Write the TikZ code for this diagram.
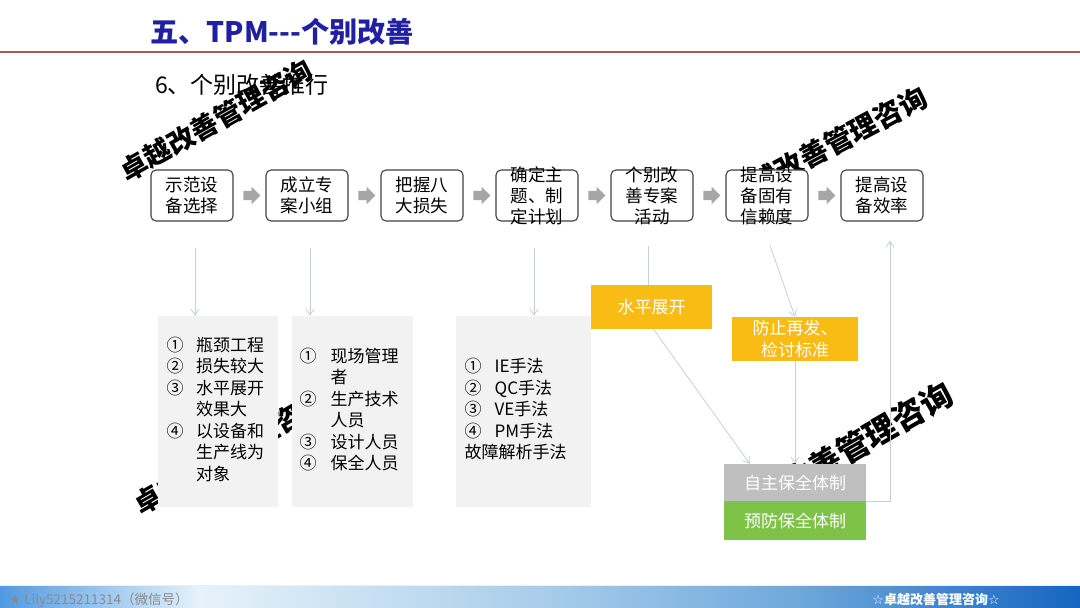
\documentclass[tikz,border=0pt]{standalone}
\usepackage{fontspec}
\setmainfont{Noto Sans CJK SC}
\newfontfamily\symf{DejaVu Sans}
\usetikzlibrary{arrows.meta,shapes.arrows,calc}
\definecolor{titleblue}{HTML}{2020A0}
\definecolor{redline}{HTML}{A85A5A}
\definecolor{boxedge}{HTML}{404040}
\definecolor{arrowgray}{HTML}{A6A6A6}
\definecolor{listgray}{HTML}{F2F2F2}
\definecolor{connc}{HTML}{C2D2DC}
\definecolor{orangec}{HTML}{F9BC15}
\definecolor{greenc}{HTML}{7EC247}
\definecolor{graybox}{HTML}{BFBFBF}
\definecolor{footgray}{HTML}{8A8A8A}
\definecolor{barA}{HTML}{4F9BE3}
\definecolor{barB}{HTML}{E6F2FA}
\definecolor{barC}{HTML}{A9CDEA}
\definecolor{barD}{HTML}{6EA8DC}
\definecolor{barE}{HTML}{1565C0}
\begin{document}
\begin{tikzpicture}[x=1pt,y=-1pt,
  flowbox/.style={draw=boxedge, line width=1.1pt, rounded corners=5pt, fill=white,
    minimum width=82pt, minimum height=51pt, inner sep=0pt},
  flowtext/.style={align=center, font=\fontsize{17.5}{21}\selectfont, inner sep=0pt},
  garrow/.style={single arrow, fill=arrowgray, draw=none, inner sep=4.5pt,
    minimum height=17pt, minimum width=17pt, single arrow head extend=4pt},
  listbox/.style={fill=listgray, minimum height=191pt, inner sep=0pt},
  listtext/.style={anchor=west, inner sep=0pt, font=\fontsize{17}{21.5}\selectfont},
  conn/.style={draw=connc, line width=0.8pt},
  tip/.style={-{Straight Barb[length=6pt,width=8pt]}},
  colbox/.style={text=white, align=center, inner sep=0pt, font=\fontsize{17}{22}\selectfont},
  wmark/.style={font=\bfseries\fontsize{27}{27}\selectfont, inner sep=0pt}
]
\useasboundingbox (0,0) rectangle (1080,608);
\fill[white] (0,0) rectangle (1080,608);

% header
\node[anchor=west, font=\bfseries\fontsize{28.2}{29}\selectfont, text=titleblue, inner sep=0pt] (title) at (150,32) {五、TPM{-}{-}{-}个别改善};
\draw[redline, line width=1.5pt] (0,52) -- (1080,52);
\node[anchor=west, font=\fontsize{23}{23}\selectfont, inner sep=0pt] (sub) at (155,85) {6、个别改善推行};

% watermarks
\node[wmark, rotate=29.5] (w1) at (216,120) {卓越改善管理咨询};
\node[wmark, rotate=28, font=\bfseries\fontsize{28}{28}\selectfont] (w2) at (826,147) {卓越改善管理咨询};
\node[wmark, rotate=30] (w3) at (230,453) {卓越改善管理咨询};
\node[wmark, rotate=30, font=\bfseries\fontsize{32}{32}\selectfont] (w4) at (839,455) {卓越改善管理咨询};

% flow boxes
\node[flowbox] (b1) at (192,195.5) {};
\node[flowtext] (t1) at (b1) {示范设\\备选择};
\node[flowbox] (b2) at (307,195.5) {};
\node[flowtext] (t2) at (b2) {成立专\\案小组};
\node[flowbox] (b3) at (422,195.5) {};
\node[flowtext] (t3) at (b3) {把握八\\大损失};
\node[flowbox] (b4) at (537,195.5) {};
\node[flowtext] (t4) at (b4) {确定主\\题、制\\定计划};
\node[flowbox] (b5) at (652,195.5) {};
\node[flowtext] (t5) at (b5) {个别改\\善专案\\活动};
\node[flowbox] (b6) at (767,195.5) {};
\node[flowtext] (t6) at (b6) {提高设\\备固有\\信赖度};
\node[flowbox] (b7) at (882,195.5) {};
\node[flowtext] (t7) at (b7) {提高设\\备效率};

\node[garrow] (a1) at ($(b1.east)!0.5!(b2.west)$) {};
\node[garrow] (a2) at ($(b2.east)!0.5!(b3.west)$) {};
\node[garrow] (a3) at ($(b3.east)!0.5!(b4.west)$) {};
\node[garrow] (a4) at ($(b4.east)!0.5!(b5.west)$) {};
\node[garrow] (a5) at ($(b5.east)!0.5!(b6.west)$) {};
\node[garrow] (a6) at ($(b6.east)!0.5!(b7.west)$) {};

% list boxes
\node[listbox, minimum width=120pt] (lA) at (218,411.5) {};
\node[listtext] (xA) at (166.5,411.5) {\begin{tabular}{@{}l@{\hspace{12.5pt}}l@{}}
①&瓶颈工程\\ ②&损失较大\\ ③&水平展开\\ &效果大\\ ④&以设备和\\ &生产线为\\ &对象\end{tabular}};
\node[listbox, minimum width=121pt] (lB) at (352.5,411.5) {};
\node[listtext] (xB) at (299.5,411.5) {\begin{tabular}{@{}l@{\hspace{14pt}}l@{}}
①&现场管理\\ &者\\ ②&生产技术\\ &人员\\ ③&设计人员\\ ④&保全人员\end{tabular}};
\node[listbox, minimum width=135pt] (lC) at (523.5,411.5) {};
\node[listtext] (xC) at (464.5,411.5) {\begin{tabular}{@{}l@{\hspace{13pt}}l@{}}
①&IE手法\\ ②&QC手法\\ ③&VE手法\\ ④&PM手法\\ \multicolumn{2}{@{}l@{}}{故障解析手法}\end{tabular}};

% coloured boxes
\node[colbox, fill=orangec, minimum width=121pt, minimum height=44pt] (hz) at (651.5,307) {水平展开};
\node[colbox, fill=orangec, minimum width=126pt, minimum height=44pt] (fz) at (795,339) {防止再发、\\检讨标准};
\node[colbox, fill=graybox, minimum width=142pt, minimum height=37pt] (zz) at (795,482.5) {自主保全体制};
\node[colbox, fill=greenc, minimum width=142pt, minimum height=39pt] (yf) at (795,520.5) {预防保全体制};

% connectors
\draw[conn,tip,shorten <=26pt] ([xshift=3pt]b1.south) -- ([xshift=3pt]b1.south |- lA.north);
\draw[conn,tip,shorten <=26pt] ([xshift=3pt]b2.south) -- ([xshift=3pt]b2.south |- lB.north);
\draw[conn,tip,shorten <=26pt] ([xshift=-3pt]b4.south) -- ([xshift=-3pt]b4.south |- lC.north);
\draw[conn,shorten <=24pt] ([xshift=-4pt]b5.south) -- ([xshift=-4pt]b5.south |- hz.north);
\draw[conn,tip] ([xshift=3pt,yshift=-24pt]b6.south) -- (fz.north);
\draw[conn,tip] ([xshift=2pt]hz.south) -- ([xshift=26pt]zz.north west);
\draw[conn,tip] (fz.south) -- (zz.north);
\draw[conn,tip] (zz.south east) -| ([xshift=8pt,yshift=-19pt]b7.south);

% footer bar
\shade[left color=barA, right color=barB] (0,585) rectangle (200,608);
\shade[left color=barB, right color=barC] (200,585) rectangle (540,608);
\shade[left color=barC, right color=barD] (540,585) rectangle (800,608);
\shade[left color=barD, right color=barE] (800,585) rectangle (1080,608);
\draw[white!70!barC, line width=1pt] (0,585.5) -- (1080,585.5);
\node[anchor=west, text=footgray, font=\fontsize{13.5}{14}\selectfont, inner sep=0pt] (ft1) at (9,600) {{\symf ★} Lily5215211314（微信号）};
\node[text=white, font=\bfseries\fontsize{13}{14}\selectfont, inner sep=0pt] (ft2) at (936,600) {{\symf ☆}卓越改善管理咨询{\symf ☆}};
\end{tikzpicture}
\end{document}
